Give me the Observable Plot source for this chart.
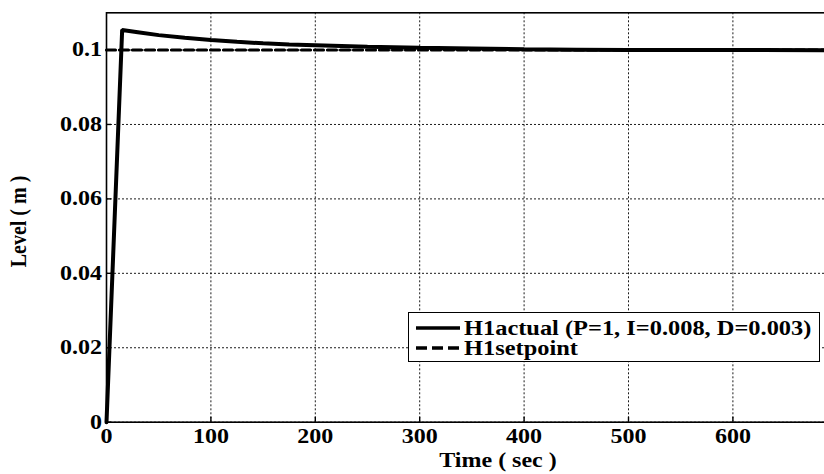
<!DOCTYPE html>
<html>
<head>
<meta charset="utf-8">
<script src="https://cdn.jsdelivr.net/npm/d3@7"></script>
<script src="https://cdn.jsdelivr.net/npm/@observablehq/plot@0.6"></script>
<style>
  html, body { margin: 0; padding: 0; background: #fff; overflow: hidden; }
  #wrap { position: relative; width: 824px; height: 474px; overflow: hidden; }
  #wrap > svg { max-width: none !important; display: block; }
  #legend {
    position: absolute; left: 408px; top: 312px; width: 412px; height: 50px;
    box-sizing: border-box; border: 1.5px solid #000; background: #fff;
    font: bold 20px "Liberation Serif", "Times New Roman", serif; color: #000;
  }
  #legend .row { position: absolute; left: 5.5px; height: 20px; line-height: 20px; white-space: nowrap; }
  #legend svg { position: absolute; left: 0; top: 0; }
  #legend .lbl { position: absolute; left: 49px; top: 0; display: inline-block; transform: scaleX(1.22); transform-origin: left center; }
</style>
</head>
<body>
<div id="wrap"></div>
<script>
// Tank level response of a PID loop (time in seconds, level in metres)
const actualTime  = [0, 15, 30, 50, 75, 100, 125, 150, 175, 200, 250, 300, 350, 400, 450, 500, 600, 750];
const actualLevel = [0, 0.1054, 0.1048, 0.1040, 0.1033, 0.1027, 0.1022, 0.1018, 0.1015, 0.1013, 0.1009, 0.1006, 0.1004, 0.1002, 0.1001, 0.1000, 0.1000, 0.0999];
const setpointTime  = [0, 750];
const setpointLevel = [0.1, 0.1];

const xTicks = [0, 100, 200, 300, 400, 500, 600];
const yTicks = [0, 0.02, 0.04, 0.06, 0.08, 0.1];
const xLabel = "Time ( sec )";
const yLabel = "Level ( m )";
const legendLabels = ["H1actual (P=1, I=0.008, D=0.003)", "H1setpoint"];

const actual = actualTime.map((t, i) => ({t, h: actualLevel[i]}));
const setpoint = setpointTime.map((t, i) => ({t, h: setpointLevel[i]}));

const grid = {stroke: "#000", strokeOpacity: 1, strokeWidth: 0.9, strokeDasharray: "2,2"};

const chart = Plot.plot({
  width: 889,
  height: 474,
  marginLeft: 106,
  marginRight: 0,
  marginTop: 12.3,
  marginBottom: 52.3,
  style: {fontFamily: "'Liberation Serif', 'Times New Roman', serif", fontWeight: "bold", fontSize: "20px", color: "#000", background: "#fff", maxWidth: "none"},
  x: {domain: [0, 750]},
  y: {domain: [0, 0.11]},
  marks: [
    Plot.gridX(xTicks, grid),
    Plot.gridY(yTicks, grid),
    Plot.frame({stroke: "#000", strokeWidth: 1.6}),
    Plot.axisX(xTicks, {tickSize: 5, dy: -5, tickPadding: 7, strokeWidth: 1.4, tickFormat: d => String(d), label: null}),
    Plot.axisY(yTicks, {tickSize: 5, dx: 5, tickPadding: 4.5, strokeWidth: 1.4, tickFormat: d => String(d), label: null}),
    Plot.line(setpoint, {x: "t", y: "h", stroke: "#000", strokeWidth: 3.2, strokeDasharray: "9,4"}),
    Plot.line(actual, {x: "t", y: "h", stroke: "#000", strokeWidth: 4, strokeLinejoin: "miter"}),
    Plot.text([xLabel], {frameAnchor: "bottom", lineAnchor: "middle", textAnchor: "middle", dy: 38, fill: "#000"}),
    Plot.text([yLabel], {frameAnchor: "left", lineAnchor: "middle", textAnchor: "middle", rotate: -90, dx: -88, dy: 4, fill: "#000"})
  ]
});
chart.style.maxWidth = "none";

// widen glyphs horizontally to suit the wide serif lettering
chart.querySelectorAll("text").forEach(t => {
  const tr = t.getAttribute("transform");
  if (tr == null) return;
  t.setAttribute("transform", tr + (tr.includes("rotate") ? " scale(1,1.2)" : " scale(1.2,1)"));
});

const wrap = document.getElementById("wrap");
wrap.appendChild(chart);

// legend
const legend = document.createElement("div");
legend.id = "legend";
const dashes = [null, "11,5"];
const rowTops = [4.5, 24.5];
legendLabels.forEach((label, i) => {
  const row = document.createElement("div");
  row.className = "row";
  row.style.top = rowTops[i] + "px";
  const svg = d3.create("svg").attr("width", 46).attr("height", 20);
  svg.append("line").attr("x1", 1).attr("x2", 45).attr("y1", 10).attr("y2", 10)
    .attr("stroke", "#000").attr("stroke-width", 3.5)
    .attr("stroke-dasharray", dashes[i]);
  row.appendChild(svg.node());
  const span = document.createElement("span");
  span.className = "lbl";
  span.textContent = label;
  row.appendChild(span);
  legend.appendChild(row);
});
wrap.appendChild(legend);
</script>
</body>
</html>
